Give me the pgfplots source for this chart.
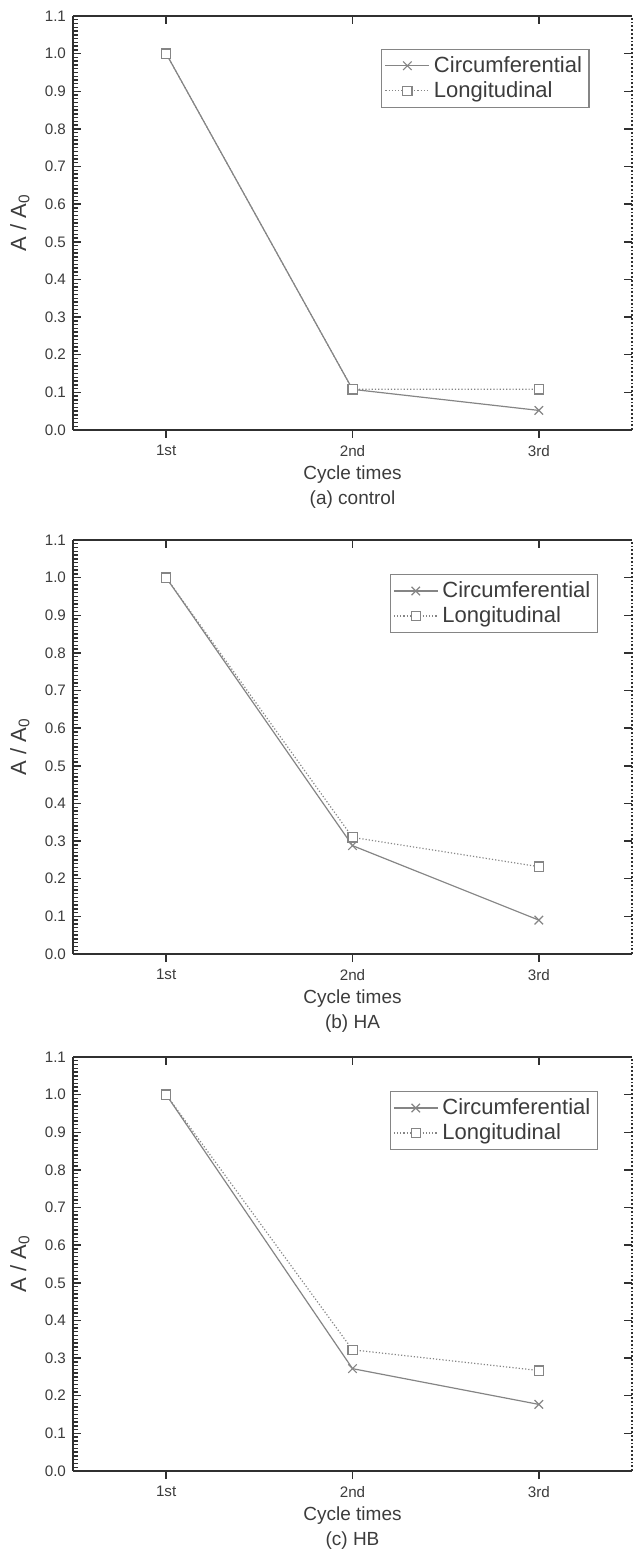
\documentclass[border=0pt]{standalone}
\usepackage{fontspec}
\setmainfont{Liberation Sans}
\setsansfont{Liberation Sans}
\usepackage{pgfplots}
\pgfplotsset{compat=1.18}
\definecolor{txt}{HTML}{3C3C3C}
\definecolor{frm}{HTML}{303030}
\definecolor{ser}{HTML}{858585}

\pgfplotsset{
  base/.style={
    scale only axis, width=279.5pt, height=207pt,
    xmin=0.5, xmax=3.5, ymin=0, ymax=1.1,
    anchor=north west, clip=false,
    axis line style={frm, line width=0.9pt},
    tick style={frm, line width=0.7pt},
    major tick length=4pt, minor tick length=2.4pt,
    /pgf/number format/assume math mode=true,
    ticklabel style={font=\fontsize{7.6}{9}\selectfont, text=txt},
  },
  data/.style={
    base,
    axis x line*=bottom, axis y line*=left,
    tick align=inside, xtick=\empty,
    ytick distance=0.1, minor y tick num=9,
    yticklabel style={/pgf/number format/.cd, fixed, fixed zerofill, precision=1},
    ylabel={A / A\textsubscript{0}},
    ylabel style={at={(axis description cs:-0.095,0.5)}, anchor=center,
      font=\fontsize{11}{13}\selectfont, text=txt},
    legend cell align=left,
    legend image code/.code={\draw[mark repeat=2, mark phase=2]
      plot coordinates {(0pt,0pt) (11pt,0pt) (22pt,0pt)};},
    legend style={anchor=north east, draw=ser, line width=0.6pt,
      font=\fontsize{11}{13}\selectfont, text=txt,
      inner sep=1.5pt, row sep=-1pt},
  },
  topright/.style={
    base,
    axis x line*=top, axis y line*=right,
    tick align=inside,
    xtick={1,2,3}, xticklabels={},
    ytick distance=0.1, yticklabels={},
    y axis line style={densely dotted, line width=0.8pt},
  },
  bottom/.style={
    base,
    axis x line*=bottom, axis y line=none,
    tick align=outside, ytick=\empty,
    xtick={1,2,3}, xticklabels={1st,2nd,3rd},
    xlabel={Cycle times},
    xlabel style={at={(axis description cs:0.5,0)}, anchor=center, yshift=-22.5pt,
      font=\fontsize{9.5}{11}\selectfont, text=txt},
  },
  circ/.style={ser, line width=0.6pt, mark=x, mark size=3pt, mark options={solid}},
  long/.style={ser, line width=0.6pt, densely dotted, mark=square*, mark size=2.3pt,
    mark options={solid, fill=white}},
}

\begin{document}
\begin{tikzpicture}
\useasboundingbox (-36.5pt,8pt) rectangle (280pt,-767pt);

% (a) control
\begin{axis}[topright, at={(0,0)}]
\end{axis}
\begin{axis}[bottom, at={(0,0)}]
\node[font=\fontsize{9.5}{11}\selectfont, text=txt, yshift=-35pt] at (axis description cs:0.5,0) {(a) control};
\end{axis}
\begin{axis}[data, at={(0,0)}, legend style={at={(0.924,0.921)}}]
\addplot[circ] coordinates {(1,1.0) (2,0.108) (3,0.052)};
\addplot[long] coordinates {(1,1.0) (2,0.108) (3,0.108)};
\legend{Circumferential,Longitudinal}
\end{axis}

% (b) HA
\begin{axis}[topright, at={(0,-262pt)}]
\end{axis}
\begin{axis}[bottom, at={(0,-262pt)}]
\node[font=\fontsize{9.5}{11}\selectfont, text=txt, yshift=-35pt] at (axis description cs:0.5,0) {(b) HA};
\end{axis}
\begin{axis}[data, at={(0,-262pt)}, legend style={at={(0.939,0.918)}}]
\addplot[circ] coordinates {(1,1.0) (2,0.288) (3,0.090)};
\addplot[long] coordinates {(1,1.0) (2,0.310) (3,0.232)};
\legend{Circumferential,Longitudinal}
\end{axis}

% (c) HB
\begin{axis}[topright, at={(0,-520.5pt)}]
\end{axis}
\begin{axis}[bottom, at={(0,-520.5pt)}]
\node[font=\fontsize{9.5}{11}\selectfont, text=txt, yshift=-35pt] at (axis description cs:0.5,0) {(c) HB};
\end{axis}
\begin{axis}[data, at={(0,-520.5pt)}, legend style={at={(0.939,0.918)}}]
\addplot[circ] coordinates {(1,1.0) (2,0.272) (3,0.177)};
\addplot[long] coordinates {(1,1.0) (2,0.322) (3,0.267)};
\legend{Circumferential,Longitudinal}
\end{axis}
\end{tikzpicture}
\end{document}
